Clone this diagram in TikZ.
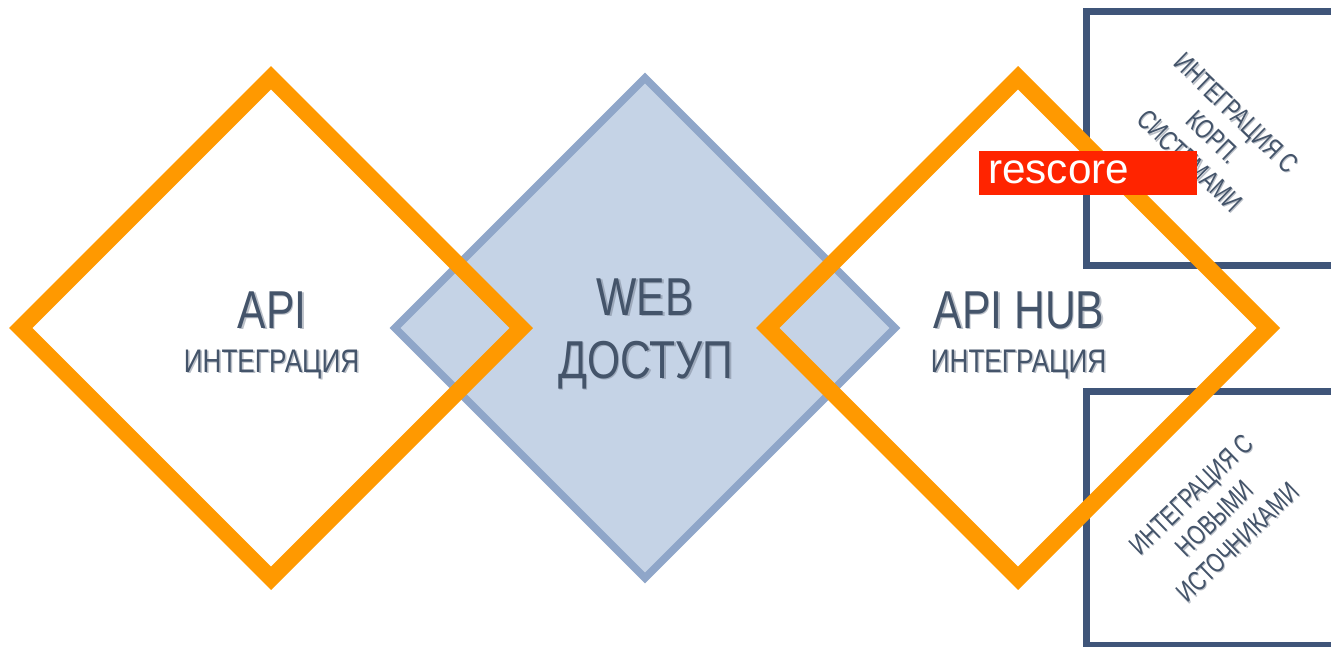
\documentclass[tikz,border=0pt]{standalone}
\usepackage{fontspec}
\setmainfont[FakeStretch=0.8]{Liberation Sans}
\newfontfamily\badgefont{Liberation Sans}
\newfontfamily\turnfont[FakeStretch=0.75]{Liberation Sans}
\definecolor{inkblue}{HTML}{44546A}
\definecolor{shadowmain}{HTML}{BBC0C8}
\definecolor{bluesmain}{HTML}{9DA9BB}
\definecolor{boxblue}{HTML}{3F5579}
\definecolor{orangeline}{HTML}{FF9900}
\definecolor{bluefill}{HTML}{C5D3E6}
\definecolor{blueline}{HTML}{8FA6C9}
\definecolor{badgered}{HTML}{FF2400}
\newlength{\shdx}\newlength{\shdy}
\setlength{\shdx}{1.2pt}\setlength{\shdy}{1.2pt}
\newcommand{\shtxt}[2][shadow]{\leavevmode\rlap{\kern\shdx\raisebox{-\shdy}{\color{#1main}#2}}#2}
\tikzset{
  x=0.75pt,y=-0.75pt,
  bigdiamond/.style={draw=orangeline,line width=12.4pt,miter limit=10},
  midiamond/.style={draw=blueline,fill=bluefill,line width=5.8pt},
  sidebox/.style={draw=boxblue,line width=4.6pt},
  bigtext/.style={text=inkblue,font=\fontsize{40}{46}\selectfont,inner sep=0pt,align=center,anchor=base},
  subtext/.style={text=inkblue,font=\fontsize{24.5}{28}\selectfont,inner sep=0pt,align=center,anchor=base},
  turntext/.style={text=inkblue,inner sep=0pt,align=center},
  badge/.style={fill=badgered,minimum width=163.5pt,minimum height=32.6pt,inner sep=0pt,anchor=north west},
  badgetext/.style={text=white,font=\badgefont\fontsize{31.7}{34}\selectfont,inner sep=0pt,anchor=base west}
}
\begin{document}
\begin{tikzpicture}
\clip (0,0) rectangle (1331,646);
\fill[white] (0,0) rectangle (1331,646);
% side boxes
\draw[sidebox] (1345,11.5) -- (1086.5,11.5) -- (1086.5,265.5) -- (1345,265.5);
\draw[sidebox] (1345,391.5) -- (1086.5,391.5) -- (1086.5,645) -- (1345,645);
% diamonds
\draw[midiamond] (645,78) -- (895,328) -- (645,578) -- (395,328) -- cycle;
\draw[bigdiamond] (271,77.7) -- (521.3,328) -- (271,578.3) -- (20.7,328) -- cycle;
\draw[bigdiamond] (1018,77.7) -- (1268.3,328) -- (1018,578.3) -- (767.7,328) -- cycle;
% labels
\node[bigtext] (apit) at (272,328) {\shtxt{API}};
\node[subtext] (apis) at (271.5,372) {\shtxt{ИНТЕГРАЦИЯ}};
\node[bigtext] (webt) at (645,315) {\shtxt[blues]{WEB}};
\node[bigtext] (webs) at (646,378) {\shtxt[blues]{ДОСТУП}};
\node[bigtext] (hubt) at (1019,328) {\shtxt{API HUB}};
\node[subtext] (hubs) at (1018.5,372) {\shtxt{ИНТЕГРАЦИЯ}};
\node[turntext,rotate=-44,font=\turnfont\fontsize{20.6}{25}\selectfont\setlength{\shdx}{1.2pt}\setlength{\shdy}{0pt}] (corp) at (1213,137) {\shtxt{ИНТЕГРАЦИЯ С}\\\shtxt{КОРП.}\\\shtxt{СИСТЕМАМИ}};
\node[turntext,rotate=44,font=\turnfont\fontsize{20.6}{25}\selectfont\setlength{\shdx}{0pt}\setlength{\shdy}{1.2pt}] (newsrc) at (1215,519) {\shtxt{ИНТЕГРАЦИЯ С}\\\shtxt{НОВЫМИ}\\\shtxt{ИСТОЧНИКАМИ}};
% badge
\node[badge] (rescore) at (979,151) {};
\node[badgetext] (rescoretext) at (988,183) {rescore};
\end{tikzpicture}
\end{document}
